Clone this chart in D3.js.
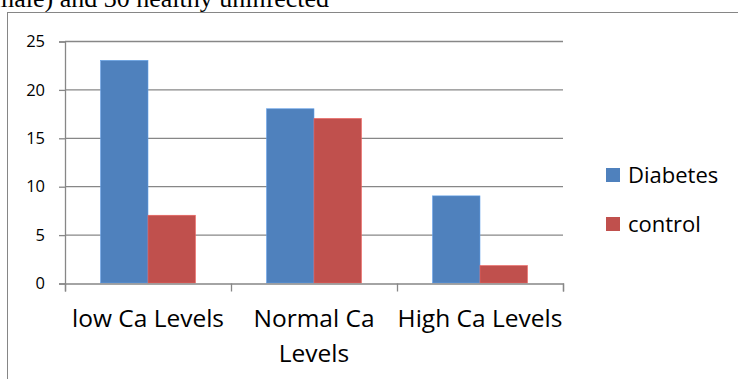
<!DOCTYPE html>
<html><head><meta charset="utf-8">
<script src="https://cdn.jsdelivr.net/npm/d3@7"></script>
<style>html,body{margin:0;padding:0;background:#fff;overflow:hidden}</style>
</head><body>
<script>
const categories = [["low Ca Levels"], ["Normal Ca", "Levels"], ["High Ca Levels"]];
const seriesNames = ["Diabetes", "control"];
const diabetes = [23, 18, 9];
const control = [7, 17, 1.8];
const yTicks = [0, 5, 10, 15, 20, 25];
const colors = ["#4F81BD", "#C0504D"];

const W = 738, H = 379;
const svg = d3.select("body").append("svg").attr("width", W).attr("height", H);
const font = "'Open Sans', sans-serif";

// cut-off caption text above the frame
svg.append("text").attr("x", -6).attr("y", 7)
  .attr("font-family", "'Liberation Serif', serif").attr("font-size", 26)
  .text("male) and 30 healthy uninfected");

// frame
svg.append("rect").attr("x", 7.5).attr("y", 12.5).attr("width", 760).attr("height", 400)
  .attr("fill", "none").attr("stroke", "#868686").attr("stroke-width", 1);

const m = {l: 65, r: 563, t: 41, b: 283};
const x0 = d3.scaleBand().domain(d3.range(categories.length)).range([m.l, m.r]).paddingInner(0).paddingOuter(0);
const x1 = d3.scaleBand().domain(d3.range(seriesNames.length)).range([0, x0.bandwidth()]).paddingInner(0).paddingOuter(0.75);
const y = d3.scaleLinear().domain([0, 25]).range([m.b, m.t]);

// gridlines
svg.append("g").selectAll("line").data(yTicks.filter(d => d > 0)).join("line")
  .attr("x1", m.l).attr("x2", m.r).attr("y1", d => y(d) + 0.5).attr("y2", d => y(d) + 0.5)
  .attr("stroke", "#878787").attr("stroke-width", 1.3);

// y axis
const yAxis = svg.append("g").attr("transform", `translate(${m.l},0.5)`)
  .call(d3.axisLeft(y).tickValues(yTicks).tickSize(6).tickPadding(14));
yAxis.select(".domain").attr("stroke", "#878787").attr("stroke-width", 1.3);
yAxis.selectAll(".tick line").attr("stroke", "#878787").attr("stroke-width", 1.3);
yAxis.selectAll("text").attr("font-family", font).attr("font-size", 16.5).attr("fill", "#000");

// bars
const data = categories.map((c, i) => [diabetes[i], control[i]]);
const groups = svg.append("g").selectAll("g").data(data).join("g")
  .attr("transform", (d, i) => `translate(${x0(i)},0)`);
groups.selectAll("rect").data(d => d.map((v, j) => ({v, j}))).join("rect")
  .attr("x", d => x1(d.j)).attr("width", x1.bandwidth())
  .attr("y", d => y(d.v)).attr("height", d => y(0) - y(d.v))
  .attr("fill", d => colors[d.j])
  .attr("stroke", d => d3.color(colors[d.j]).brighter(0.6)).attr("stroke-width", 0.6);

// x axis
const xAxisScale = d3.scaleLinear().domain([0, categories.length]).range([m.l, m.r]);
const xAxis = svg.append("g").attr("transform", `translate(0,${m.b + 0.5})`)
  .call(d3.axisBottom(xAxisScale).tickValues(d3.range(categories.length + 1)).tickSize(8).tickFormat(""));
xAxis.select(".domain").attr("stroke", "#878787").attr("stroke-width", 1.3);
xAxis.selectAll(".tick line").attr("stroke", "#878787").attr("stroke-width", 1.3);

// category labels
categories.forEach((lines, i) => {
  const t = svg.append("text").attr("text-anchor", "middle")
    .attr("font-family", font).attr("font-size", 24.5).attr("fill", "#000");
  lines.forEach((ln, k) => t.append("tspan").attr("x", x0(i) + x0.bandwidth() / 2)
    .attr("y", 327 + k * 35).text(ln));
});

// legend
const leg = svg.append("g");
seriesNames.forEach((s, i) => {
  const yy = 168 + i * 49;
  leg.append("rect").attr("x", 606).attr("y", yy).attr("width", 14).attr("height", 14).attr("fill", colors[i]);
  leg.append("text").attr("x", 628).attr("y", yy + 15).attr("font-family", font)
    .attr("font-size", 22).attr("fill", "#000").text(s);
});
</script>
</body></html>
